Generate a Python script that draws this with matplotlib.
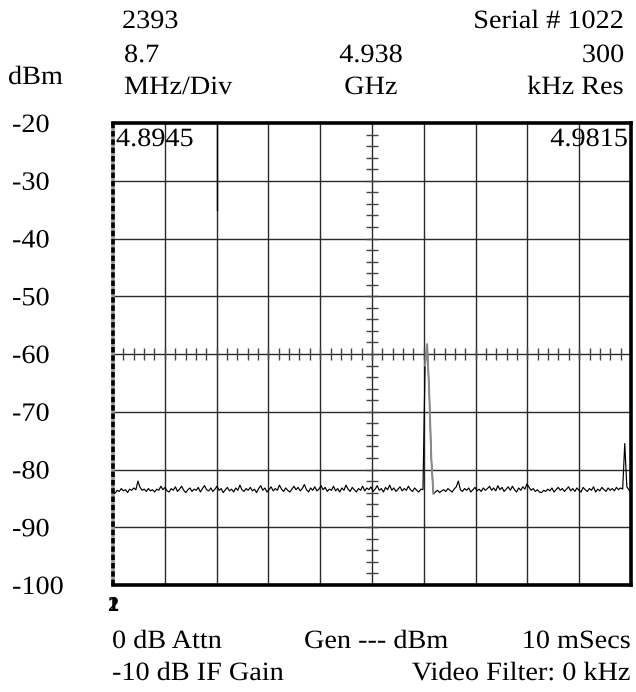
import numpy as np
import matplotlib
matplotlib.use("Agg")
import matplotlib.pyplot as plt
import matplotlib.patheffects as pe
from matplotlib.transforms import Affine2D

# ---- sweep settings -------------------------------------------------------
f_start = 4.8945          # GHz, left edge
f_stop = 4.9815           # GHz, right edge
f_center = 4.938          # GHz
ref_top = -20             # dBm, top of screen
ref_bottom = -100         # dBm, bottom of screen
y_labels = ["-20", "-30", "-40", "-50", "-60", "-70", "-80", "-90", "-100"]

# marker line near the left of the screen
marker_freq = 4.9120
marker_level = -35.0

# ---- measured trace (dBm), equally spaced across the span ----------------
trace_dbm = [
    -83.9, -84.1, -83.6, -83.8, -83.3, -83.7, -83.5, -84.0, -83.4, -83.6,
    -83.2, -83.5, -82.0, -83.1, -83.6, -83.4, -83.8, -83.3, -83.7, -83.5,
    -83.9, -83.4, -83.6, -82.9, -83.5, -83.1, -83.7, -83.9, -83.3, -83.6,
    -83.0, -83.8, -83.4, -82.9, -83.6, -84.0, -83.5, -83.2, -83.8, -83.4,
    -83.6, -83.1, -83.9, -83.3, -82.8, -83.5, -83.7, -83.2, -83.8, -83.4,
    -82.9, -83.6, -83.3, -84.0, -83.5, -83.1, -83.7, -83.4, -83.9, -83.2,
    -83.6, -82.7, -83.5, -83.8, -83.3, -83.6, -83.1, -83.7, -83.4, -84.0,
    -83.3, -82.8, -83.6, -83.2, -83.9, -83.5, -83.0, -83.7, -83.3, -83.6,
    -82.7, -83.4, -83.8, -83.2, -83.6, -83.9, -83.4, -82.9, -83.5, -83.1,
    -83.7, -83.3, -82.6, -83.5, -83.9, -83.2, -83.6, -83.0, -83.7, -83.4,
    -82.8, -83.5, -83.1, -83.8, -83.4, -83.6, -82.9, -83.7, -83.3, -83.9,
    -83.2, -83.6, -82.7, -83.4, -83.8, -83.1, -83.5, -83.9, -83.3, -83.6,
    -82.9, -83.7, -83.2, -83.5, -83.0, -83.8, -83.4, -82.8, -83.6, -83.3,
    -83.9, -83.1, -83.5, -82.7, -83.6, -83.2, -83.8, -83.4, -83.0, -83.7,
    -83.3, -83.6, -82.9, -83.5, -83.8, -83.2, -83.6, -83.9, -83.4, -83.5,
    -62.0, -58.3, -66.5, -78.0, -84.2, -83.9, -83.6, -84.0, -83.7, -83.5,
    -83.8, -83.3, -83.6, -83.9, -83.4, -83.0, -82.0, -83.5, -83.8, -83.3,
    -83.6, -83.2, -83.9, -83.5, -83.1, -83.7, -83.4, -83.8, -83.2, -83.6,
    -83.3, -82.9, -83.6, -83.2, -83.7, -82.8, -83.5, -83.1, -83.8, -83.4,
    -83.0, -83.6, -82.9, -83.5, -83.9, -83.2, -83.6, -83.0, -83.4, -82.5,
    -83.1, -83.6, -83.3, -83.8, -83.5, -83.9, -84.0, -83.6, -83.8, -83.4,
    -83.7, -83.2, -83.9, -83.5, -83.1, -83.6, -83.3, -83.8, -83.4, -83.0,
    -83.7, -83.3, -83.8, -83.2, -83.6, -83.9, -83.1, -83.5, -83.8, -83.3,
    -83.6, -83.0, -83.9, -83.4, -83.7, -83.1, -83.5, -83.8, -83.2, -83.6,
    -83.3, -83.7, -83.1, -83.5, -83.2, -83.4, -75.5, -83.0, -83.5, -84.0,
]
peak_slice = slice(150, 155)

W, H = 636, 692
SERIF = "Liberation Serif"


class StretchX(pe.AbstractPathEffect):
    """Widen glyphs horizontally about a fixed x (display pixels)."""

    def __init__(self, x0, sx):
        super().__init__()
        self.x0 = x0
        self.sx = sx

    def draw_path(self, renderer, gc, tpath, affine, rgbFace=None):
        st = Affine2D().translate(-self.x0, 0).scale(self.sx, 1.0).translate(self.x0, 0)
        renderer.draw_path(gc, tpath, affine + st, rgbFace)


fig = plt.figure(figsize=(W / 100, H / 100), dpi=100)


def put(text, x, y, ha="left", size=19, sx=1.07, weight="normal"):
    t = fig.text(x / W, 1 - y / H, text, ha=ha, va="baseline",
                 fontsize=size, family=SERIF, weight=weight, color="black")
    t.set_path_effects([StretchX(x, sx)])
    return t


# ---- screen ---------------------------------------------------------------
left, right, top, bottom = 113, 631, 123, 585
ax = fig.add_axes([left / W, 1 - bottom / H, (right - left) / W, (bottom - top) / H])
ax.set_xlim(f_start, f_stop)
ax.set_ylim(ref_bottom, ref_top)

xg = np.linspace(f_start, f_stop, 11)
yg = np.linspace(ref_bottom, ref_top, 9)
for xv in xg[1:-1]:
    ax.axvline(xv, color="#2a2a2a", lw=1.0, zorder=1)
for yv in yg[1:-1]:
    ax.axhline(yv, color="#2a2a2a", lw=1.0, zorder=1)
ax.set_xticks([])
ax.set_yticks([])

# graticule ticks on the centre cross
y_mid = (ref_top + ref_bottom) / 2
xt = np.linspace(f_start, f_stop, 51)
yt = np.linspace(ref_bottom, ref_top, 41)
ax.plot(xt, np.full_like(xt, y_mid), ls="none", marker="|", ms=8,
        mew=1.0, color="#444444", zorder=2)
ax.plot(np.full_like(yt, f_center), yt, ls="none", marker="_", ms=8,
        mew=1.0, color="#444444", zorder=2)

# marker line
ax.plot([marker_freq, marker_freq], [ref_top, marker_level], color="black",
        lw=1.0, zorder=3)

# trace
freqs = np.linspace(f_start, f_stop, len(trace_dbm))
levels = np.array(trace_dbm)
ax.plot(freqs, levels, color="black", lw=0.85, zorder=4)
ax.plot(freqs[peak_slice], levels[peak_slice], color="#8a8a8a", lw=1.4, zorder=5)

# frame: heavy on three sides, dashed on the left
for side in ("top", "right", "bottom"):
    ax.spines[side].set_linewidth(2.6)
    ax.spines[side].set_color("black")
ax.spines["left"].set_linewidth(2.6)
ax.spines["left"].set_color("#9a9a9a")
ax.plot([f_start, f_start], [ref_bottom, ref_top], color="black", lw=2.6,
        dashes=(1.5, 0.8), clip_on=False, zorder=6)

# edge frequencies inside the screen
put(f"{f_start:.4f}", 116, 146)
put(f"{f_stop:.4f}", 628, 146, ha="right")

# ---- level labels ---------------------------------------------------------
for lab, yv in zip(y_labels, yg[::-1]):
    ypix = top + (ref_top - yv) / (ref_top - ref_bottom) * (bottom - top)
    put(lab, 12, ypix + 9)

# ---- header ---------------------------------------------------------------
put("2393", 122, 28)
put("Serial # 1022", 624, 28, ha="right")
put("8.7", 124, 62)
put("4.938", 371, 62, ha="center")
put("300", 624, 62, ha="right")
put("dBm", 8, 84)
put("MHz/Div", 124, 94)
put("GHz", 371, 94, ha="center")
put("kHz Res", 624, 94, ha="right")

# ---- footer ---------------------------------------------------------------
for ch in ("1", "2"):
    fig.text(left / W, 1 - 611 / H, ch, ha="center", va="baseline",
             fontsize=16, family=SERIF, weight="bold")
put("0 dB Attn", 112, 648)
put("Gen --- dBm", 304, 648)
put("10 mSecs", 631, 648, ha="right")
put("-10 dB IF Gain", 112, 680)
put("Video Filter: 0 kHz", 631, 680, ha="right")

fig.savefig("out.png", dpi=100, facecolor="white")
